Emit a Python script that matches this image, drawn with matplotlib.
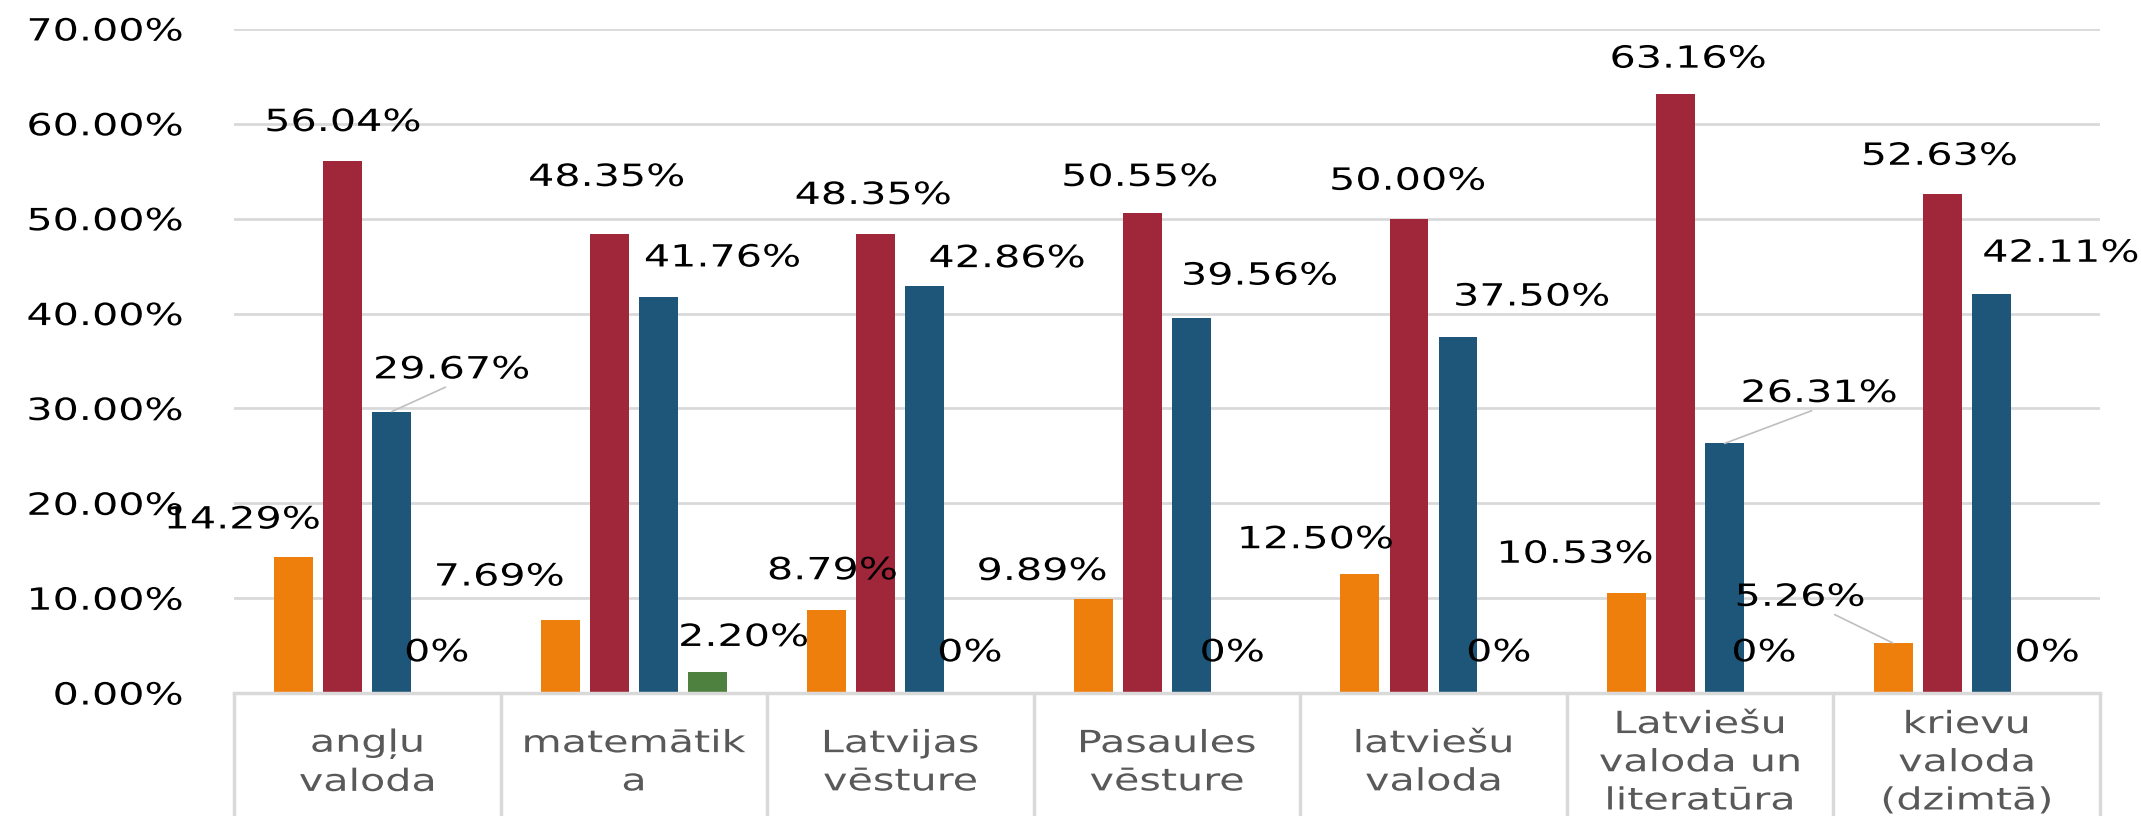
import numpy as np
import matplotlib.pyplot as plt
from matplotlib.patheffects import AbstractPathEffect
from matplotlib.transforms import Affine2D

categories = ["angļu\nvaloda", "matemātik\na", "Latvijas\nvēsture", "Pasaules\nvēsture",
              "latviešu\nvaloda", "Latviešu\nvaloda un\nliteratūra", "krievu\nvaloda\n(dzimtā)"]
series_1 = [14.29, 7.69, 8.79, 9.89, 12.50, 10.53, 5.26]
series_2 = [56.04, 48.35, 48.35, 50.55, 50.00, 63.16, 52.63]
series_3 = [29.67, 41.76, 42.86, 39.56, 37.50, 26.31, 42.11]
series_4 = [0, 2.20, 0, 0, 0, 0, 0]
y_ticks = [0, 10, 20, 30, 40, 50, 60, 70]

colors = ["#EE7F0D", "#9F2739", "#1E5679", "#4E8040"]

# label offsets (points) from the top of each bar, placed by hand like the original
label_dx = [[-37, -44, 4, -37, -32, -37, -67],
            [0, -2, -2, -2, -1, 9, -2],
            [43, 46, 59, 49, 53, 68, 50],
            [-3, 26, -3, -6, -6, -7, 5]]
label_dy = [[27, 31, 28, 20, 25, 28, 33],
            [28, 41, 28, 26, 27, 25, 27],
            [30, 28, 20, 30, 29, 36, 29],
            [29, 25, 29, 29, 29, 29, 29]]
# labels that get a leader line: (series, category) -> where the line leaves the label
leaders = {(2, 0): (0.5, 0), (2, 5): (0.5, 0), (0, 6): (0.8, 0)}


class Widen(AbstractPathEffect):
    """stretch text sideways - the original font is a lot wider than DejaVu"""

    def __init__(self, sx=1.35, anchor="center"):
        super().__init__()
        self.sx = sx
        self.anchor = anchor

    def draw_path(self, renderer, gc, tpath, affine, rgbFace=None):
        ext = tpath.get_extents()
        x0 = ext.x1 if self.anchor == "right" else (ext.x0 + ext.x1) / 2
        t = Affine2D().translate(-x0, 0).scale(self.sx, 1).translate(x0, 0)
        renderer.draw_path(gc, tpath, t + affine, rgbFace)


fig = plt.figure(figsize=(21.41, 8.16), dpi=100)
ax = fig.add_axes([0.1093, 0.1507, 0.8715, 0.8138])

x = np.arange(len(categories))
width = 0.146
step = 0.184

for i, vals in enumerate([series_1, series_2, series_3, series_4]):
    pos = x + (i - 1.5) * step
    ax.bar(pos, vals, width, color=colors[i], zorder=2)
    for j, v in enumerate(vals):
        txt = f"{v:.2f}%" if v else "0%"
        arrow = None
        if (i, j) in leaders:
            arrow = dict(arrowstyle="-", color="#BFBFBF", lw=1.2,
                         relpos=leaders[(i, j)], shrinkA=0, shrinkB=0)
        ax.annotate(txt, (pos[j], v), xytext=(label_dx[i][j], label_dy[i][j]),
                    textcoords="offset points", ha="center", va="center",
                    fontsize=22, color="black", arrowprops=arrow,
                    annotation_clip=False, zorder=3, path_effects=[Widen()])

ax.set_xlim(-0.5, len(categories) - 0.5)
ax.set_ylim(0, 70)
ax.set_yticks(y_ticks, [f"{t:.2f}%" for t in y_ticks])
ax.yaxis.grid(True, color="#D9D9D9", lw=2)
ax.set_axisbelow(True)
ax.tick_params(axis="y", length=0, pad=37, labelsize=22, labelcolor="black")
for t in ax.get_yticklabels():
    t.set_path_effects([Widen(anchor="right")])

# category separators below the axis
ax.set_xticks([])
ax.set_xticks(np.arange(len(categories) + 1) - 0.5, minor=True)
ax.tick_params(axis="x", which="minor", length=90, width=2.5, color="#D9D9D9", direction="out")

for s in ["left", "top", "right"]:
    ax.spines[s].set_visible(False)
ax.spines["bottom"].set_color("#D9D9D9")
ax.spines["bottom"].set_linewidth(2.5)

for j, cat in enumerate(categories):
    ax.text(j, -0.105, cat, transform=ax.get_xaxis_transform(), ha="center", va="center",
            fontsize=22, color="#595959", linespacing=1.4, path_effects=[Widen()])

plt.savefig("out.png", dpi=100)
